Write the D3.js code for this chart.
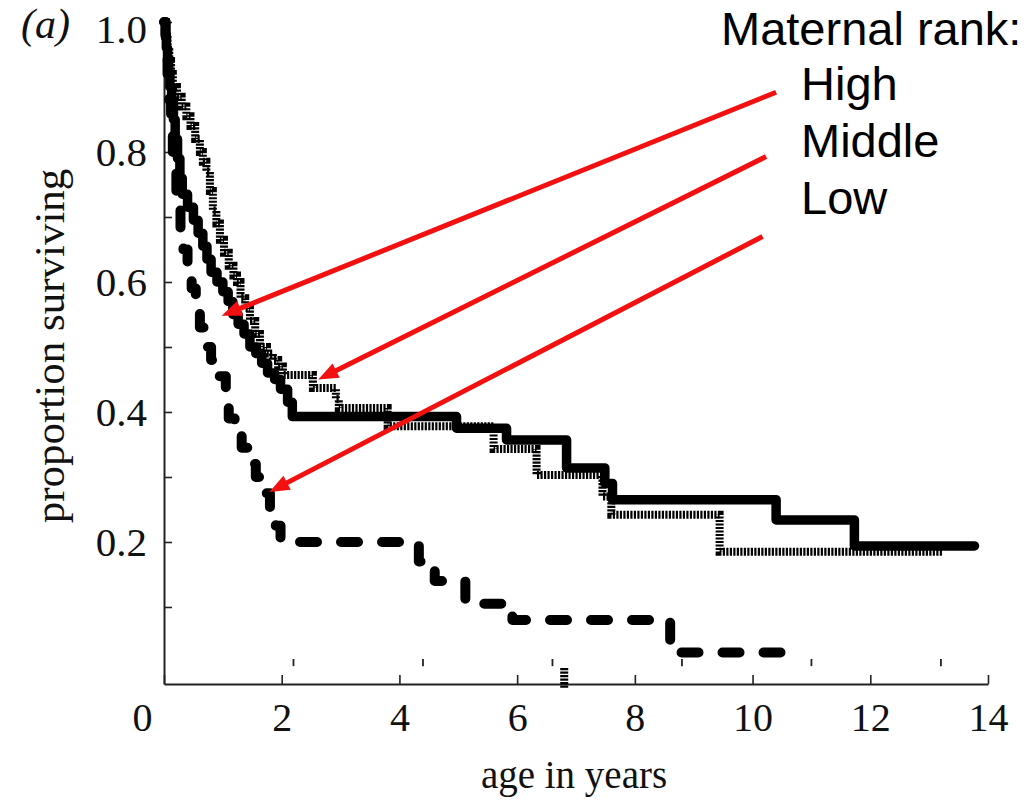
<!DOCTYPE html>
<html>
<head>
<meta charset="utf-8">
<script src="https://cdn.jsdelivr.net/npm/d3@7"></script>
<style>
  html, body { margin: 0; padding: 0; background: #fff; }
  svg { display: block; }
</style>
</head>
<body>
<svg id="chart" width="1032" height="800"></svg>
<script>
// Survival of offspring by maternal dominance rank (step curves, proportion surviving vs age)

// High rank: times (years) at which survival steps down, and survival after each step
const highTimes = [0, 0.02, 0.04, 0.06, 0.08, 0.10, 0.13, 0.16, 0.19, 0.23, 0.27, 0.31,
  0.40, 0.50, 0.58, 0.66, 0.73, 0.80, 0.90, 1.00, 1.09, 1.17, 1.26, 1.36,
  1.46, 1.56, 1.66, 1.76, 1.88, 1.98, 2.10, 2.18, 4.97, 5.82, 6.84, 7.49,
  7.62, 10.40, 11.73, 13.77];
const highSurv = [1.0, 0.98, 0.96, 0.94, 0.92, 0.90, 0.88, 0.85, 0.82, 0.79, 0.76, 0.735,
  0.715, 0.695, 0.675, 0.655, 0.635, 0.615, 0.60, 0.585, 0.57, 0.55, 0.535, 0.52,
  0.50, 0.49, 0.475, 0.46, 0.45, 0.435, 0.415, 0.393, 0.375, 0.357, 0.314, 0.29,
  0.265, 0.234, 0.194, 0.194];

// Middle rank
const middleTimes = [0, 0.03, 0.06, 0.09, 0.12, 0.15, 0.22, 0.30, 0.38, 0.45, 0.53, 0.61,
  0.66, 0.72, 0.78, 0.83, 0.89, 0.95, 1.02, 1.10, 1.18, 1.24, 1.30, 1.38,
  1.46, 1.55, 1.63, 1.75, 1.85, 1.94, 2.02, 2.53, 2.92, 2.97, 3.80, 5.60,
  6.33, 7.45, 7.60, 9.44, 13.22];
const middleSurv = [1.0, 0.98, 0.96, 0.94, 0.92, 0.90, 0.885, 0.87, 0.855, 0.84, 0.82, 0.80,
  0.785, 0.77, 0.74, 0.71, 0.69, 0.665, 0.645, 0.625, 0.61, 0.60, 0.575, 0.56,
  0.54, 0.52, 0.50, 0.49, 0.48, 0.47, 0.457, 0.437, 0.42, 0.406, 0.378, 0.343,
  0.303, 0.27, 0.242, 0.185, 0.185];

// Low rank
const lowTimes = [0, 0.03, 0.06, 0.09, 0.12, 0.15, 0.18, 0.21, 0.24, 0.28, 0.33,
  0.40, 0.47, 0.54, 0.61, 0.70, 0.80, 0.90, 1.05, 1.10, 1.20,
  1.32, 1.44, 1.56, 1.68, 1.80, 1.90, 1.98, 4.33, 4.60, 5.12, 5.92, 8.60, 10.60, 10.66];
const lowSurv = [1.0, 0.96, 0.92, 0.88, 0.84, 0.80, 0.77, 0.74, 0.71, 0.68, 0.65,
  0.62, 0.59, 0.56, 0.53, 0.50, 0.48, 0.455, 0.42, 0.39, 0.37,
  0.345, 0.32, 0.30, 0.275, 0.25, 0.225, 0.20, 0.17, 0.14, 0.105, 0.08, 0.03, 0.012, 0.012];

// Isolated censoring mark of the middle group near the baseline (years)
const middleCensor = [6.8];

// Axis ticks
const xTicks = [0, 2, 4, 6, 8, 10, 12, 14];
const yMajorTicks = [0.2, 0.4, 0.6, 0.8, 1.0];
const yMinorTicks = [0.1, 0.3, 0.5, 0.7, 0.9];
const baselineTicks = [2.2, 4.4, 6.6, 8.8, 11.0, 13.2];

// Labels
const panelLabel = "(a)";
const xTitle = "age in years";
const yTitle = "proportion surviving";
const legendTitle = "Maternal rank:";
const rankLabels = ["High", "Middle", "Low"];

// Arrows from the legend to each curve, in (years, proportion) coordinates
const arrowFrom = [[10.40, 0.892], [10.23, 0.793], [10.17, 0.670]];
const arrowTo = [[0.98, 0.548], [2.62, 0.450], [1.79, 0.277]];

// ---------------------------------------------------------------------------
const svg = d3.select("#chart");

const x = d3.scaleLinear().domain([0, 14]).range([164, 988]);
const y = d3.scaleLinear().domain([-0.0185, 1]).range([684, 22]);

const serif = "'Liberation Serif', 'Times New Roman', serif";
const sans = "'Liberation Sans', Arial, sans-serif";
const red = "#f21010";

// X axis (ticks point inward)
const gx = svg.append("g")
  .attr("transform", `translate(0,${y.range()[0]})`)
  .call(d3.axisBottom(x)
    .tickValues(xTicks)
    .tickSizeInner(-9)
    .tickSizeOuter(0)
    .tickPadding(19)
    .tickFormat(d3.format("d")));
gx.select(".domain").attr("stroke", "#222").attr("stroke-width", 2);
gx.selectAll(".tick line").attr("stroke", "#222").attr("stroke-width", 1.6);
gx.selectAll(".tick text")
  .attr("font-family", serif).attr("font-size", 40).attr("fill", "#111");
gx.selectAll(".tick text").filter(d => d === 0).attr("dx", -22);

// Y axis (major + minor ticks, inward)
const majorSet = new Set(yMajorTicks);
const gy = svg.append("g")
  .attr("transform", `translate(${x.range()[0]},0)`)
  .call(d3.axisLeft(y)
    .tickValues(yMinorTicks.concat(yMajorTicks))
    .tickSizeInner(-8)
    .tickSizeOuter(0)
    .tickPadding(17)
    .tickFormat(d => majorSet.has(d) ? d.toFixed(1) : ""));
gy.select(".domain").attr("stroke", "#222").attr("stroke-width", 2);
gy.selectAll(".tick line").attr("stroke", "#222").attr("stroke-width", 1.6);
gy.selectAll(".tick text")
  .attr("font-family", serif).attr("font-size", 41).attr("fill", "#111");
gy.selectAll(".tick text").filter(d => d === 1.0).attr("dy", "0.5em");

// Small ticks just above the baseline
svg.append("g").selectAll("line")
  .data(baselineTicks)
  .join("line")
  .attr("x1", d => x(d)).attr("x2", d => x(d))
  .attr("y1", y(0.02)).attr("y2", y(0.009))
  .attr("stroke", "#222").attr("stroke-width", 1.8);

// Survival step curves
const stepLine = d3.line()
  .x(d => x(d[0]))
  .y(d => y(d[1]))
  .curve(d3.curveStepAfter);

const zip = (ts, ps) => ts.map((t, i) => [t, ps[i]]);

svg.append("path")
  .datum(zip(lowTimes, lowSurv))
  .attr("d", stepLine)
  .attr("fill", "none")
  .attr("stroke", "#000")
  .attr("stroke-width", 10)
  .attr("stroke-dasharray", "17,24")
  .attr("stroke-linecap", "round")
  .attr("stroke-linejoin", "round");

const hatch = sel => sel
  .attr("fill", "none")
  .attr("stroke", "#000")
  .attr("stroke-width", 8)
  .attr("stroke-dasharray", "2.2,1.3")
  .attr("stroke-linecap", "butt");

svg.append("path")
  .datum(zip(middleTimes, middleSurv))
  .attr("d", stepLine)
  .call(hatch);

svg.append("g").selectAll("path")
  .data(middleCensor)
  .join("path")
  .attr("d", d => `M${x(d)},${y(0.006)}V${y(-0.025)}`)
  .call(hatch);

svg.append("path")
  .datum(zip(highTimes, highSurv))
  .attr("d", stepLine)
  .attr("fill", "none")
  .attr("stroke", "#000")
  .attr("stroke-width", 9.5)
  .attr("stroke-linecap", "round")
  .attr("stroke-linejoin", "round");

// Text labels
svg.append("text")
  .attr("x", 21).attr("y", 38)
  .attr("font-family", serif).attr("font-style", "italic")
  .attr("font-size", 42).attr("fill", "#111")
  .text(panelLabel);

svg.append("text")
  .attr("transform", "translate(64,346) rotate(-90)")
  .attr("text-anchor", "middle")
  .attr("font-family", serif).attr("font-size", 43).attr("fill", "#111")
  .text(yTitle);

svg.append("text")
  .attr("x", 574).attr("y", 788)
  .attr("text-anchor", "middle")
  .attr("font-family", serif).attr("font-size", 39).attr("fill", "#111")
  .text(xTitle);

// Legend
svg.append("text")
  .attr("x", 721).attr("y", 45)
  .attr("font-family", sans).attr("font-size", 47).attr("fill", "#000")
  .text(legendTitle);

svg.append("g").selectAll("text")
  .data(rankLabels)
  .join("text")
  .attr("x", 801)
  .attr("y", (d, i) => 100 + i * 57)
  .attr("font-family", sans).attr("font-size", 47).attr("fill", "#000")
  .text(d => d);

// Red arrows
const headLen = 20, headHalf = 8;
const arrows = arrowFrom.map((f, i) => ({
  x0: x(f[0]), y0: y(f[1]), x1: x(arrowTo[i][0]), y1: y(arrowTo[i][1])
}));
const ga = svg.append("g");
arrows.forEach(a => {
  const dx = a.x1 - a.x0, dy = a.y1 - a.y0;
  const len = Math.hypot(dx, dy);
  const ux = dx / len, uy = dy / len;
  const bx = a.x1 - ux * headLen, by = a.y1 - uy * headLen;
  ga.append("line")
    .attr("x1", a.x0).attr("y1", a.y0)
    .attr("x2", bx + ux * 2).attr("y2", by + uy * 2)
    .attr("stroke", red).attr("stroke-width", 5);
  ga.append("path")
    .attr("d", `M${a.x1},${a.y1}L${bx - uy * headHalf},${by + ux * headHalf}L${bx + uy * headHalf},${by - ux * headHalf}Z`)
    .attr("fill", red);
});
</script>
</body>
</html>
